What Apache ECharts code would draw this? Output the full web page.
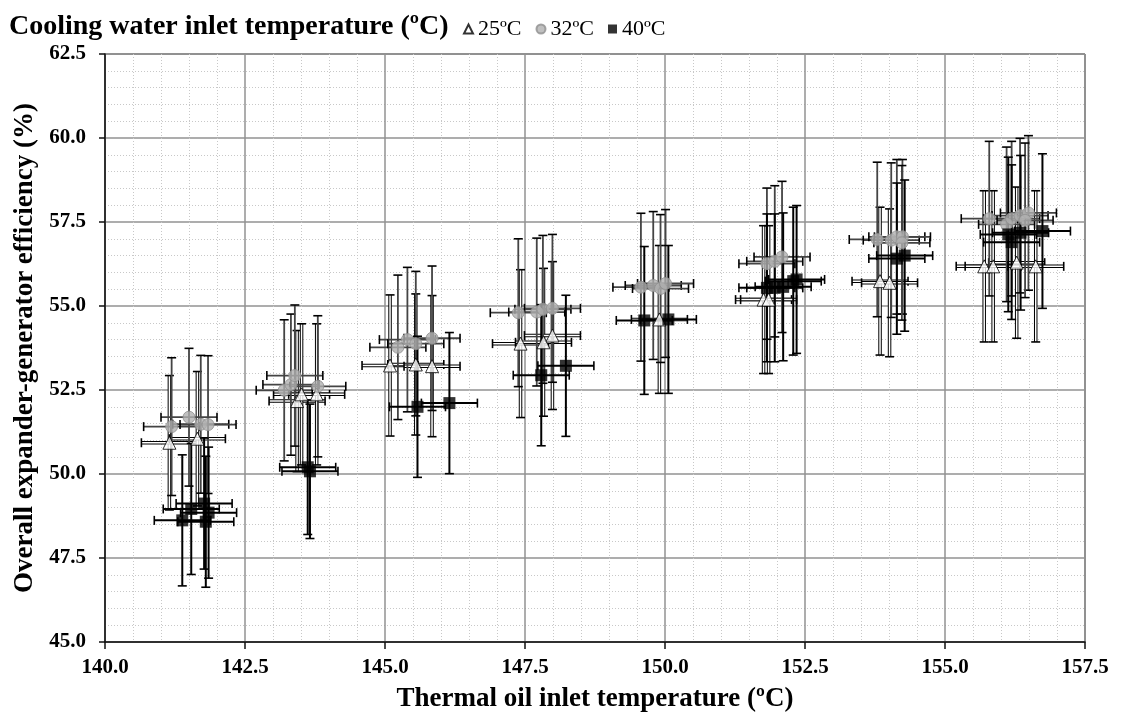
<!doctype html>
<html lang="en">
<head>
    <meta charset="UTF-8">
    <title>Expander-generator efficiency</title>
    <style>
        * {
            margin: 0;
            padding: 0;
        }

        body {
            background: #fff;
        }

        #chart {
            width: 1121px;
            height: 717px;
        }
    </style>
</head>
<body>
<script src="https://cdn.jsdelivr.net/npm/echarts@6/dist/echarts.min.js"></script>
<div id="chart"></div>

<script type="application/javascript">
    // values
    const seriesNames = ['25ºC', '32ºC', '40ºC'];

    const t25X = [141.15, 141.65, 143.43, 143.51, 143.78, 145.09, 145.55, 145.84, 147.42, 147.83, 147.99,
        149.90, 151.76, 151.85, 153.84, 154.01, 155.70, 155.86, 156.28, 156.62];
    const t25Y = [50.93, 51.05, 52.17, 52.37, 52.37, 53.23, 53.26, 53.21, 53.88, 53.92, 54.12,
        54.60, 55.19, 55.19, 55.74, 55.69, 56.18, 56.18, 56.29, 56.18];
    const t25E = [2.0, 2.0, 2.1, 2.1, 2.1, 2.1, 2.1, 2.1, 2.2, 2.2, 2.2,
        2.2, 2.2, 2.2, 2.2, 2.2, 2.25, 2.25, 2.25, 2.25];

    const t32X = [141.19, 141.50, 141.71, 141.84, 143.20, 143.32, 143.39, 143.80, 145.23, 145.40, 145.55, 145.84,
        147.38, 147.71, 147.82, 147.99, 149.57, 149.79, 149.92, 150.01, 151.82, 151.96, 152.09,
        153.79, 154.04, 154.14, 154.24, 154.23, 155.79, 156.10, 156.19, 156.34, 156.49, 156.43];
    const t32Y = [51.41, 51.69, 51.48, 51.47, 52.49, 52.66, 52.93, 52.61, 53.77, 54.00, 53.88, 54.04,
        54.80, 54.82, 54.90, 54.93, 55.56, 55.61, 55.52, 55.67, 56.26, 56.33, 56.46,
        56.98, 56.96, 57.06, 57.06, 56.88, 57.60, 57.43, 57.60, 57.69, 57.77, 57.55];
    const t32E = [2.05, 2.05, 2.05, 2.05, 2.1, 2.1, 2.1, 2.1, 2.15, 2.15, 2.15, 2.15,
        2.2, 2.2, 2.2, 2.2, 2.2, 2.2, 2.2, 2.2, 2.25, 2.25, 2.25,
        2.3, 2.3, 2.3, 2.3, 2.3, 2.3, 2.3, 2.3, 2.3, 2.3, 2.3];

    const t40X = [141.38, 141.54, 141.77, 141.85, 141.80, 143.62, 143.66, 145.58, 146.15, 147.79, 148.23,
        149.63, 150.06, 151.82, 151.96, 152.11, 152.29, 152.35, 154.14, 154.28, 156.13, 156.19, 156.35, 156.74];
    const t40Y = [48.62, 48.96, 49.12, 48.85, 48.58, 50.20, 50.08, 52.00, 52.11, 52.94, 53.22,
        54.57, 54.60, 55.54, 55.54, 55.57, 55.74, 55.79, 56.41, 56.50, 57.13, 56.90, 57.18, 57.23];
    const t40E = [1.95, 1.95, 1.95, 1.95, 1.95, 2.0, 2.0, 2.1, 2.1, 2.1, 2.1,
        2.2, 2.2, 2.2, 2.2, 2.2, 2.2, 2.2, 2.25, 2.25, 2.3, 2.3, 2.3, 2.3];

    // horizontal uncertainty of the oil temperature, same for every point
    const X_ERR = 0.5;

    const FONT = '"Liberation Serif", "Times New Roman", serif';

    const toData = function (xs, ys, es) {
        return xs.map(function (x, i) {
            return [x, ys[i], X_ERR, es[i]];
        });
    };

    // draws a vertical and a horizontal error bar with end caps
    const errorBars = function (lineColor, lineWidth, innerColor) {
        return function (params, api) {
            const x = api.value(0), y = api.value(1), ex = api.value(2), ey = api.value(3);
            const top = api.coord([x, y + ey]);
            const bot = api.coord([x, y - ey]);
            const lft = api.coord([x - ex, y]);
            const rgt = api.coord([x + ex, y]);
            const cap = 4.5;
            const bars = [[top, bot], [lft, rgt]];
            const caps = [
                [[top[0] - cap, top[1]], [top[0] + cap, top[1]]],
                [[bot[0] - cap, bot[1]], [bot[0] + cap, bot[1]]],
                [[lft[0], lft[1] - cap], [lft[0], lft[1] + cap]],
                [[rgt[0], rgt[1] - cap], [rgt[0], rgt[1] + cap]]
            ];
            const line = function (s, color, w) {
                return {
                    type: 'line',
                    shape: {x1: s[0][0], y1: s[0][1], x2: s[1][0], y2: s[1][1]},
                    style: {stroke: color, lineWidth: w}
                };
            };
            const children = [];
            bars.forEach(function (s) {
                children.push(line(s, lineColor, lineWidth));
                if (innerColor) {
                    children.push(line(s, innerColor, lineWidth - 2));
                }
            });
            caps.forEach(function (s) {
                children.push(line(s, '#000', 1.6));
            });
            return {type: 'group', children: children};
        };
    };

    const errSeries = function (name, data, color, width, inner) {
        return {
            name: name + ' err',
            type: 'custom',
            renderItem: errorBars(color, width, inner),
            data: data,
            encode: {x: 0, y: 1},
            silent: true,
            z: 2
        };
    };

    const d25 = toData(t25X, t25Y, t25E);
    const d32 = toData(t32X, t32Y, t32E);
    const d40 = toData(t40X, t40Y, t40E);

    const chart = echarts.init(document.getElementById('chart'), null, {renderer: 'canvas'});

    const option = {
        backgroundColor: '#fff',
        animation: false,
        title: {
            text: 'Cooling water inlet temperature (ºC)',
            left: 4,
            top: 8,
            textStyle: {
                fontFamily: FONT,
                fontSize: 28,
                fontWeight: 'bold',
                color: '#000'
            }
        },
        legend: {
            data: seriesNames,
            left: 458,
            top: 13,
            itemWidth: 9,
            itemHeight: 9,
            itemGap: 14,
            textStyle: {
                fontFamily: FONT,
                fontSize: 22,
                color: '#000'
            }
        },
        grid: {
            left: 105,
            right: 36,
            top: 54,
            bottom: 75,
            show: true,
            borderColor: '#222',
            borderWidth: 1,
            outerBoundsMode: 'none'
        },
        xAxis: {
            type: 'value',
            min: 140,
            max: 157.5,
            interval: 2.5,
            name: 'Thermal oil inlet temperature (ºC)',
            nameLocation: 'middle',
            nameGap: 44,
            nameTextStyle: {
                fontFamily: FONT,
                fontSize: 27,
                fontWeight: 'bold',
                color: '#000'
            },
            axisLine: {show: true, onZero: false, lineStyle: {color: '#111', width: 1.5}},
            axisTick: {show: true, length: 7, lineStyle: {color: '#111', width: 1.5}},
            axisLabel: {
                margin: 15,
                fontFamily: FONT,
                fontSize: 21,
                fontWeight: 'bold',
                color: '#000',
                formatter: function (v) {
                    return v.toFixed(1);
                }
            },
            splitLine: {show: true, lineStyle: {color: '#929292', width: 1.5}},
            minorTick: {show: false, splitNumber: 5},
            minorSplitLine: {show: true, lineStyle: {color: '#c8c8c8', width: 1, type: [1, 2]}}
        },
        yAxis: {
            type: 'value',
            min: 45,
            max: 62.5,
            interval: 2.5,
            name: 'Overall expander-generator efficiency (%)',
            nameLocation: 'middle',
            nameGap: 60,
            nameTextStyle: {
                fontFamily: FONT,
                fontSize: 27,
                fontWeight: 'bold',
                color: '#000'
            },
            axisLine: {show: true, onZero: false, lineStyle: {color: '#111', width: 1.5}},
            axisTick: {show: true, length: 6, lineStyle: {color: '#111', width: 1.5}},
            axisLabel: {
                margin: 19,
                fontFamily: FONT,
                fontSize: 21,
                fontWeight: 'bold',
                color: '#000',
                formatter: function (v) {
                    return v.toFixed(1);
                }
            },
            splitLine: {show: true, lineStyle: {color: '#929292', width: 1.5}},
            minorTick: {show: false, splitNumber: 5},
            minorSplitLine: {show: true, lineStyle: {color: '#c8c8c8', width: 1, type: [1, 2]}}
        },
        series: [
            errSeries('25ºC', d25, '#000', 3.5, '#fff'),
            errSeries('32ºC', d32, '#444', 1.8),
            errSeries('40ºC', d40, '#000', 2),
            {
                name: '25ºC',
                type: 'scatter',
                symbol: 'triangle',
                symbolSize: 13,
                data: d25,
                encode: {x: 0, y: 1},
                itemStyle: {color: '#fff', borderColor: '#000', borderWidth: 1},
                z: 3
            },
            {
                name: '32ºC',
                type: 'scatter',
                symbol: 'circle',
                symbolSize: 12,
                data: d32,
                encode: {x: 0, y: 1},
                itemStyle: {color: '#b0b0b0', borderColor: '#8e8e8e', borderWidth: 1},
                z: 3
            },
            {
                name: '40ºC',
                type: 'scatter',
                symbol: 'rect',
                symbolSize: 12,
                data: d40,
                encode: {x: 0, y: 1},
                itemStyle: {color: '#000'},
                z: 3
            }
        ]
    };

    chart.setOption(option);
</script>
</body>
</html>
